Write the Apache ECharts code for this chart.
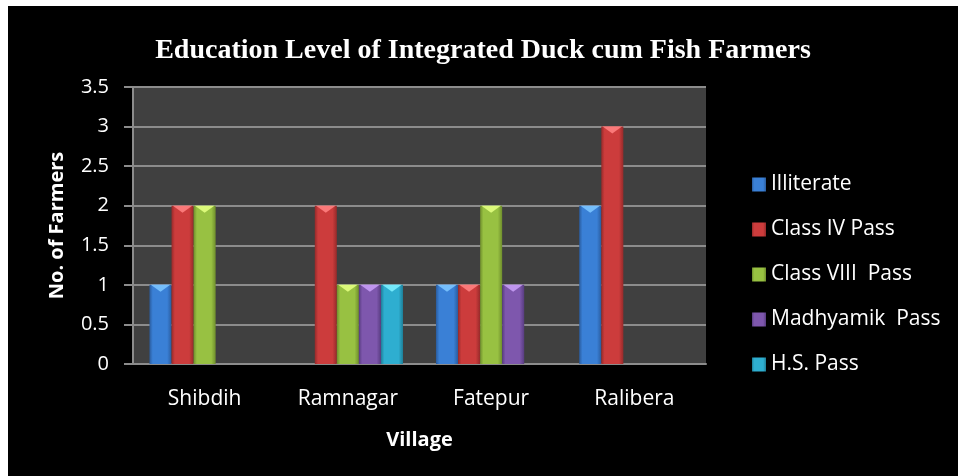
<!DOCTYPE html>
<html>
<head>
<meta charset="utf-8">
<script src="https://cdn.jsdelivr.net/npm/echarts@6/dist/echarts.min.js"></script>
<style>
    html, body { margin: 0; padding: 0; background: #fff; }
    #main { position: absolute; left: 8px; top: 6px; width: 950px; height: 470px; background: #000; }
</style>
</head>
<body>
<div id="main"></div>
<script>
// chart data
const villages = ['Shibdih', 'Ramnagar', 'Fatepur', 'Ralibera'];
const seriesNames = ['Illiterate', 'Class IV Pass', 'Class VIII  Pass', 'Madhyamik  Pass', 'H.S. Pass'];
const illiterate = [1, 0, 1, 2];
const classIV = [2, 2, 1, 3];
const classVIII = [2, 1, 2, 0];
const madhyamik = [0, 1, 1, 0];
const hsPass = [0, 1, 0, 0];
const yTicks = [0, 0.5, 1, 1.5, 2, 2.5, 3, 3.5];

const allData = [illiterate, classIV, classVIII, madhyamik, hsPass];
// [edge, main, bevel] colours per series
const palette = [
    ['#2a5c9e', '#3a80d6', '#7cc4ff'],
    ['#962a2a', '#cc3c3c', '#ff8080'],
    ['#6f8e2c', '#98c142', '#e2ff80'],
    ['#583c80', '#7e57ad', '#c79cf5'],
    ['#1e7f98', '#2eaed0', '#7cf0ff']
];

const labelFont = '"Open Sans", "Noto Sans", sans-serif';

function barColor (c) {
    return {
        type: 'linear', x: 0, y: 0, x2: 1, y2: 0,
        colorStops: [
            {offset: 0, color: c[0]},
            {offset: 0.15, color: c[1]},
            {offset: 0.8, color: c[1]},
            {offset: 1, color: c[0]}
        ]
    };
}

const series = [];
allData.forEach(function (d, i) {
    series.push({
        name: seriesNames[i],
        type: 'bar',
        data: d,
        barGap: 0,
        barCategoryGap: '23%',
        itemStyle: {color: barColor(palette[i])}
    });
});
// light bevel on the top of every bar
allData.forEach(function (d, i) {
    series.push({
        name: seriesNames[i] + ' top',
        type: 'pictorialBar',
        data: d.map(function (v) { return v > 0 ? v : '-'; }),
        barGap: 0,
        barCategoryGap: '23%',
        symbol: 'path://M0,0 L10,0 L5,4 Z',
        symbolSize: ['88%', 7],
        symbolPosition: 'end',
        itemStyle: {color: palette[i][2], opacity: 0.9},
        silent: true,
        z: 3
    });
});

const myChart = echarts.init(document.getElementById('main'));
myChart.setOption({
    backgroundColor: '#000',
    animation: false,
    title: {
        text: 'Education Level of Integrated Duck cum Fish Farmers',
        left: 'center',
        top: 26,
        textStyle: {
            color: '#fff',
            fontFamily: '"Liberation Serif", "Times New Roman", serif',
            fontWeight: 'bold',
            fontSize: 28
        }
    },
    legend: {
        data: seriesNames,
        orient: 'vertical',
        left: 739,
        top: 163,
        itemWidth: 14,
        itemHeight: 14,
        itemGap: 24,
        itemTextGap: 9,
        icon: 'rect',
        textStyle: {color: '#fff', fontSize: 21, fontFamily: labelFont}
    },
    grid: {
        left: 125,
        right: 252,
        top: 81,
        bottom: 112,
        show: true,
        backgroundColor: '#404040',
        borderWidth: 0
    },
    xAxis: {
        type: 'category',
        data: villages,
        name: 'Village',
        nameLocation: 'middle',
        nameGap: 66,
        nameTextStyle: {color: '#fff', fontSize: 20, fontWeight: 'bold', fontFamily: labelFont},
        axisLine: {lineStyle: {color: '#8c8c8c', width: 2}},
        axisTick: {show: false},
        axisLabel: {color: '#fff', fontSize: 21, margin: 25, fontFamily: labelFont}
    },
    yAxis: {
        type: 'value',
        min: yTicks[0],
        max: yTicks[yTicks.length - 1],
        interval: 0.5,
        name: 'No. of Farmers',
        nameLocation: 'middle',
        nameGap: 66,
        nameTextStyle: {color: '#fff', fontSize: 20, fontWeight: 'bold', fontFamily: labelFont},
        axisLine: {show: true, lineStyle: {color: '#8c8c8c', width: 2}},
        axisTick: {show: true, length: 9, lineStyle: {color: '#8c8c8c', width: 2}},
        splitLine: {lineStyle: {color: '#8c8c8c', width: 2}},
        axisLabel: {color: '#fff', fontSize: 20, margin: 24, fontFamily: labelFont}
    },
    series: series
});
</script>
</body>
</html>
